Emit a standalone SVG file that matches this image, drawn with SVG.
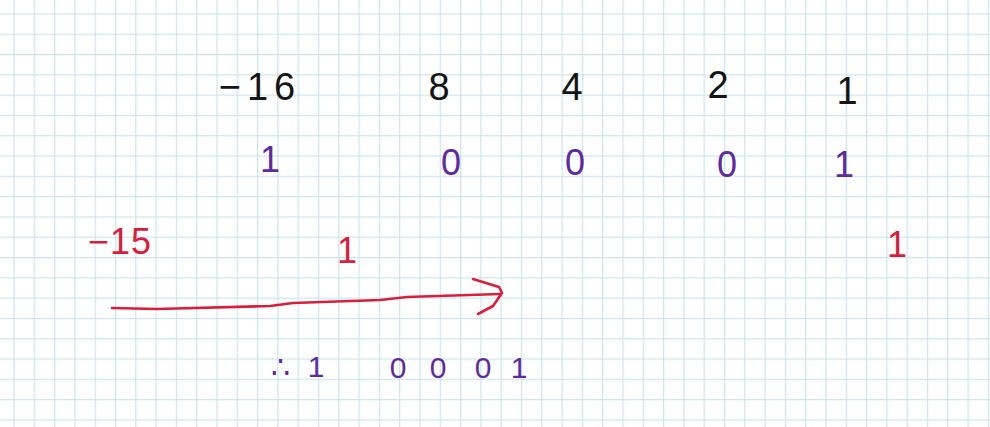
<svg xmlns="http://www.w3.org/2000/svg" width="990" height="427" viewBox="0 0 990 427">
  <defs>
    <pattern id="grid" patternUnits="userSpaceOnUse" x="13.4" y="13.4" width="20.3" height="20.3">
      <path d="M0.6 0V20.3M0 0.6H20.3" fill="none" stroke="#cbe5f0" stroke-width="1.3"/>
    </pattern>
  </defs>
  <style>
    text { font-family: "Liberation Sans", Arial, sans-serif; text-anchor: middle; }
    .blk { fill: #141414; font-size: 38px; }
    .pur { fill: #5e2aa0; font-size: 36px; }
    .red { fill: #d81e3a; font-size: 36px; }
    .pur2 { fill: #5e2aa0; font-size: 30px; }
    .stroke-red { fill: none; stroke: #d81e3a; stroke-width: 2.6; stroke-linecap: round; stroke-linejoin: round; }
  </style>
  <rect width="990" height="427" fill="#ffffff"/>
  <rect width="990" height="427" fill="url(#grid)"/>

  <g id="weights">
    <text class="blk" x="260" y="100" letter-spacing="6">−16</text>
    <text class="blk" x="439" y="100">8</text>
    <text class="blk" x="572" y="100">4</text>
    <text class="blk" x="718" y="98">2</text>
    <text class="blk" x="847" y="104" font-size="46">1</text>
  </g>

  <g id="bits">
    <text class="pur" x="270" y="172">1</text>
    <text class="pur" x="451" y="175" font-size="40">0</text>
    <text class="pur" x="575" y="175" font-size="30">0</text>
    <text class="pur" x="727" y="177" font-size="33">0</text>
    <text class="pur" x="844" y="177">1</text>
  </g>

  <g id="red-notes">
    <text class="red" x="120" y="254" letter-spacing="1">−15</text>
    <text class="red" x="347" y="263" font-size="34">1</text>
    <text class="red" x="897" y="257" font-size="44">1</text>
  </g>

  <g id="connectors">
    <path class="stroke-red" d="M112 308 L157 309 L270 306 L293 303 L380 300 L407 297 L500 294"/>
    <path class="stroke-red" d="M473 279 L499 287 L502 293 L493 306 L478 314"/>
  </g>

  <g id="result">
    <text class="pur2" x="280" y="377">∴</text>
    <text class="pur2" x="316" y="377">1</text>
    <text class="pur2" y="378"><tspan x="398">0</tspan><tspan x="438">0</tspan><tspan x="483">0</tspan><tspan x="519">1</tspan></text>
  </g>
</svg>
